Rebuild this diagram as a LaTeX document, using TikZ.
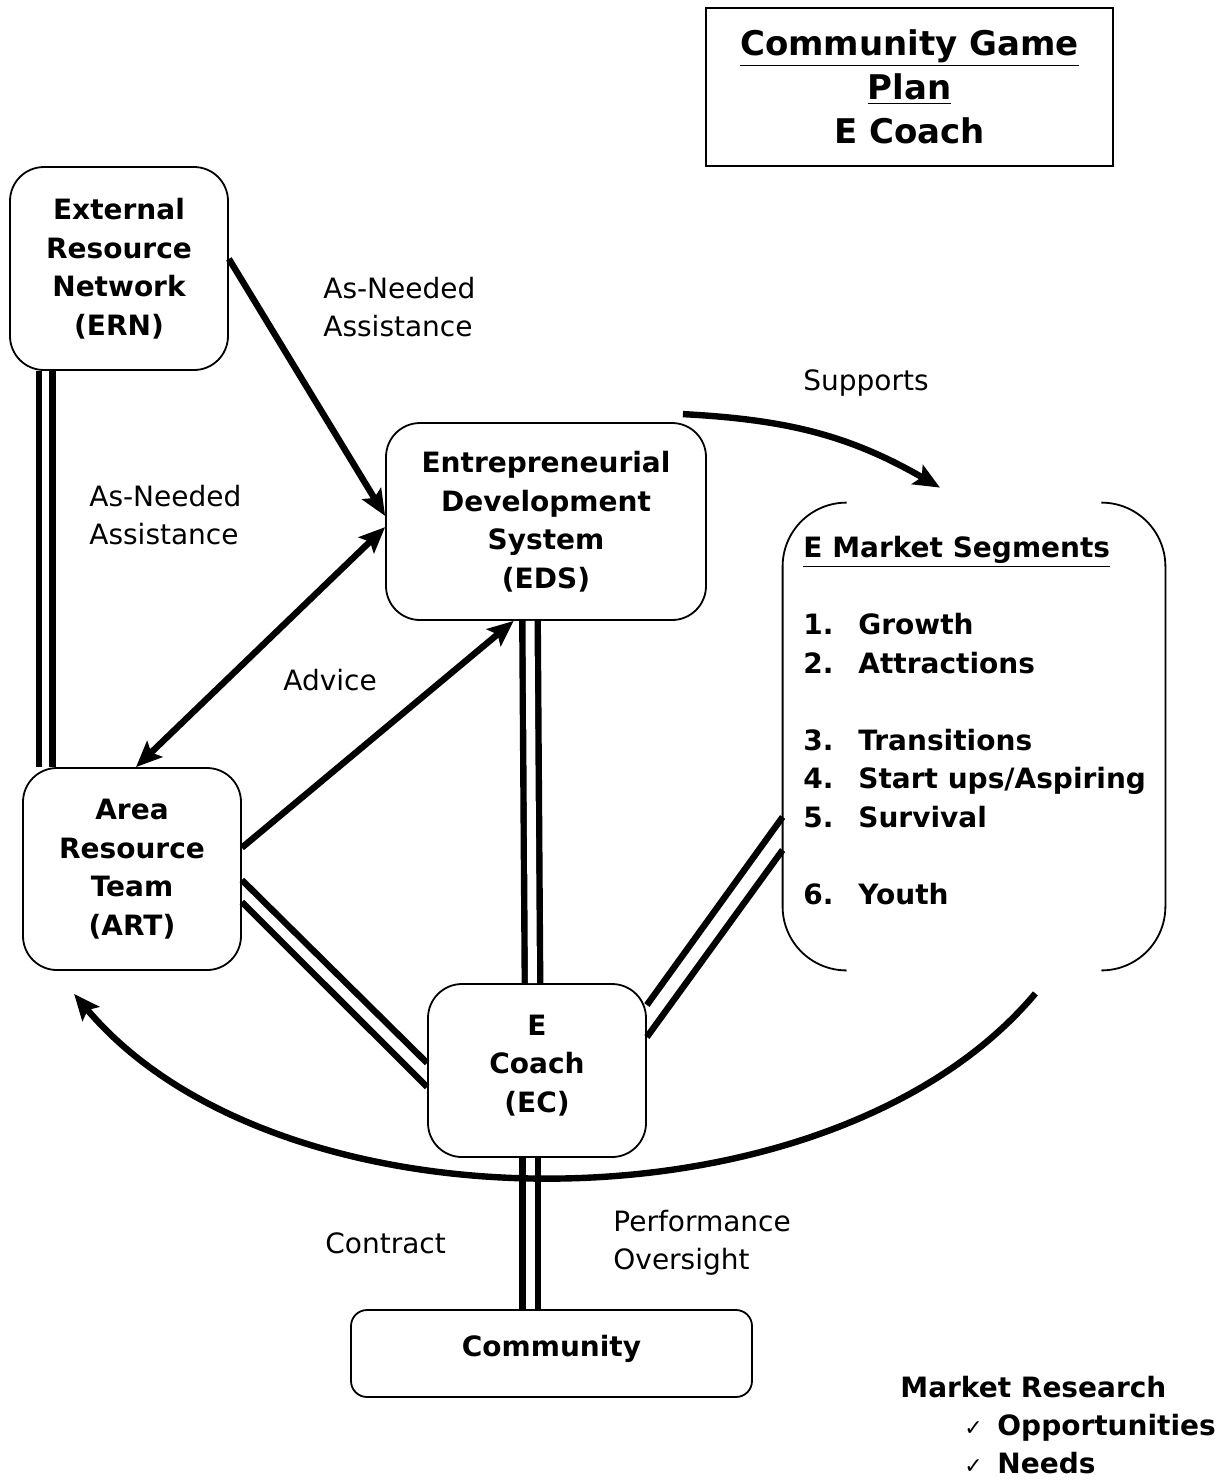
\documentclass[tikz,border=0pt]{standalone}
\usepackage{fontspec}
\setmainfont{DejaVu Sans}
\usetikzlibrary{calc, positioning, arrows.meta}
\tikzset{
    unit/.style={rectangle, rounded corners=17pt, draw, line width=0.9pt, align=center, inner sep=0pt, font=\fontsize{14}{19.25}\selectfont\bfseries},
    tag/.style={align=left, anchor=west, inner sep=0pt, font=\fontsize{14}{19.25}\selectfont},
    link/.style={->, line width=3.2pt},
    dbl/.style={double, double distance=4.5pt, line width=3.2pt},
    bar/.style={line width=3.2pt},
    >={Stealth[length=13pt, width=11pt, inset=2.5pt]}
}

\begin{document}
\begin{tikzpicture}[x=0.5pt, y=0.5pt]
		\useasboundingbox (0,0) rectangle (1228,-1480);
		
		% Title
		\node (title) [draw, line width=1pt, minimum width=203.5pt, minimum height=79pt, align=center, font=\fontsize{17}{22}\selectfont\bfseries] at (909.5,-87) {\underline{Community Game}\\\underline{Plan}\\E Coach};
		
		% The boxes
		\node (ern) [unit, minimum width=109pt, minimum height=101.5pt] at (119,-268.5) {External\\Resource\\Network\\(ERN)};
		\node (eds) [unit, minimum width=160pt, minimum height=98.5pt] at (546,-521.5) {Entrepreneurial\\Development\\System\\(EDS)};
		\node (art) [unit, minimum width=109pt, minimum height=101pt] at (132,-869) {Area\\Resource\\Team\\(ART)};
		\node (ec) [unit, minimum width=109pt, minimum height=86.5pt, text depth=7pt] at (537,-1070.5) {E\\Coach\\(EC)};
		\node (com) [unit, rounded corners=8pt, minimum width=200.5pt, minimum height=43.5pt, text depth=8pt] at (551.5,-1353.5) {Community};
		
		% Market segments (open frame)
		\node (mkt) [minimum width=191pt, minimum height=233.5pt] at (974,-736.5) {};
		\draw [line width=0.9pt] ($(mkt.north west)+(64,0)$) to[out=180, in=90] ($(mkt.north west)+(0,-64)$) -- ($(mkt.south west)+(0,64)$) to[out=-90, in=180] ($(mkt.south west)+(64,0)$);
		\draw [line width=0.9pt] ($(mkt.north east)+(-64,0)$) to[out=0, in=90] ($(mkt.north east)+(0,-64)$) -- ($(mkt.south east)+(0,64)$) to[out=-90, in=0] ($(mkt.south east)+(-64,0)$);
		\node (segs) [anchor=north west, align=left, inner sep=0pt, font=\fontsize{14}{19.25}\selectfont\bfseries] at (803,-536) {\underline{E Market Segments}\\[19.25pt]
			\makebox[27.5pt][l]{1.}Growth\\
			\makebox[27.5pt][l]{2.}Attractions\\[19.25pt]
			\makebox[27.5pt][l]{3.}Transitions\\
			\makebox[27.5pt][l]{4.}Start ups/Aspiring\\
			\makebox[27.5pt][l]{5.}Survival\\[19.25pt]
			\makebox[27.5pt][l]{6.}Youth};
		
		% Market research
		\node (research) [anchor=north west, align=left, inner sep=0pt, font=\fontsize{14}{19}\selectfont\bfseries] at (900,-1376) {Market Research\\
			\hspace{32pt}\makebox[16.5pt][l]{\normalfont\fontsize{11}{12}\selectfont ✓}Opportunities\\
			\hspace{32pt}\makebox[16.5pt][l]{\normalfont\fontsize{11}{12}\selectfont ✓}Needs};
		
		% Labels
		\node (helpA) [tag] at (323,-307) {As-Needed\\Assistance};
		\node (helpB) [tag] at (89,-515) {As-Needed\\Assistance};
		\node (supp) [tag] at (803,-383) {Supports};
		\node (advice) [tag] at (283,-680) {Advice};
		\node (contract) [tag] at (325,-1243) {Contract};
		\node (perf) [tag] at (613,-1243) {Performance\\Oversight};
		
		% Double lines
		\draw [dbl, double distance=3.6pt] ($(ern.south west)+(36.5,0)$) -- ($(art.north west)+(23.5,0)$);
		\draw [dbl] ($(eds.south)+(-16,0)$) -- ($(ec.north)+(-4.5,0)$);
		\draw [dbl] ($(ec.south)+(-7,0)$) -- ($(com.north)+(-21.5,0)$);
		\draw [bar] ($(art.east)+(0,-11)$) -- ($(ec.west)+(0,7.5)$);
		\draw [bar] ($(art.east)+(0,-33)$) -- ($(ec.west)+(0,-16.5)$);
		\draw [bar] ($(ec.east)+(0,65.5)$) -- ($(mkt.west)+(0,-80.5)$);
		\draw [bar] ($(ec.east)+(0,33.5)$) -- ($(mkt.west)+(0,-113.5)$);
		
		% Arrows
		\draw [link] (ern.5) -- (eds.178);
		\draw [link, <->] ($(art.north)+(4,0)$) -- (eds.182);
		\draw [link] (art.11) -- (eds.252);
		\draw [link] ($(eds.north east)+(-24,8)$) to[out=-3, in=150] ($(mkt.north)+(-34,15)$);
		\draw [link] ($(mkt.south east)+(-130,-23)$) to[out=-130, in=-50, looseness=0.85] ($(art.south west)+(52,-23)$);
		
	\end{tikzpicture}
\end{document}
